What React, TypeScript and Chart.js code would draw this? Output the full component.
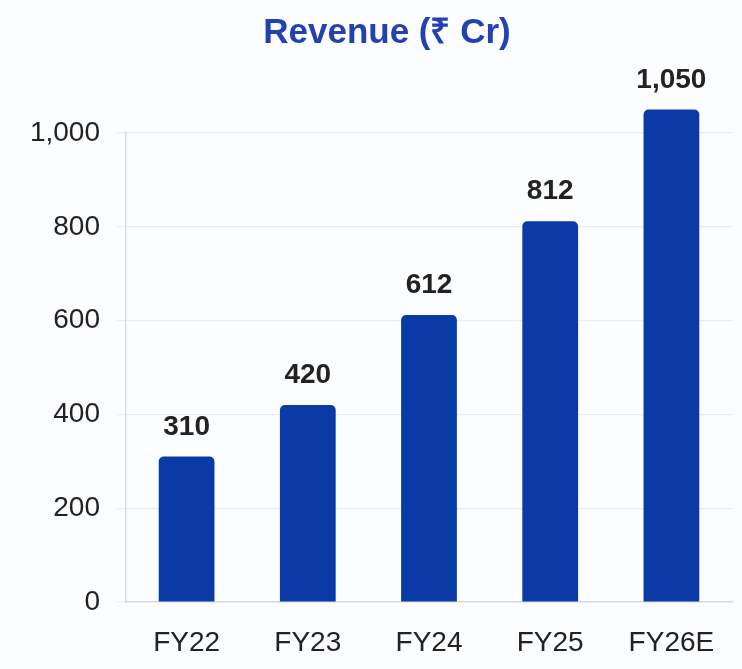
import React, { useEffect, useRef } from "react";
import { Chart, registerables } from "chart.js";

Chart.register(...registerables);

const categories = ["FY22", "FY23", "FY24", "FY25", "FY26E"];
const revenue = [310, 420, 612, 812, 1050];
const yTicks = [0, 200, 400, 600, 800, 1000];
const chartTitle = "Revenue (₹ Cr)";

const FONT = "'Liberation Sans', Arial, sans-serif";

const fmt = (v: number) => v.toLocaleString("en-US");

const valueLabels = {
  id: "valueLabels",
  afterDatasetsDraw(chart: any) {
    const ctx = chart.ctx;
    const meta = chart.getDatasetMeta(0);
    ctx.save();
    ctx.font = `bold 28px ${FONT}`;
    ctx.fillStyle = "#222222";
    ctx.textAlign = "center";
    ctx.textBaseline = "alphabetic";
    meta.data.forEach((bar: any, i: number) => {
      ctx.fillText(fmt(revenue[i]), bar.x, bar.y - 22);
    });
    ctx.restore();
  },
};

const titlePlugin = {
  id: "offsetTitle",
  afterDraw(chart: any) {
    const ctx = chart.ctx;
    ctx.save();
    ctx.font = `bold 35px ${FONT}`;
    ctx.fillStyle = "#2341b0";
    ctx.textAlign = "center";
    ctx.textBaseline = "middle";
    ctx.fillText(chartTitle, 387, 33);
    ctx.restore();
  },
};

export default function App() {
  const canvasRef = useRef<HTMLCanvasElement | null>(null);

  useEffect(() => {
    if (!canvasRef.current) return;
    const chart = new Chart(canvasRef.current, {
      type: "bar",
      data: {
        labels: categories,
        datasets: [
          {
            label: "Revenue",
            data: revenue,
            backgroundColor: "#0a3aa6",
            borderRadius: { topLeft: 5, topRight: 5, bottomLeft: 0, bottomRight: 0 },
            borderSkipped: "bottom",
            categoryPercentage: 1,
            barPercentage: 0.46,
            clip: false as any,
          },
        ],
      },
      options: {
        animation: false,
        responsive: true,
        maintainAspectRatio: false,
        layout: { padding: { top: 133, left: 0, right: 10, bottom: 0 } },
        plugins: {
          legend: { display: false },
          tooltip: { enabled: false },
          title: { display: false },
        },
        scales: {
          x: {
            afterFit: (scale: any) => {
              scale.height = 67;
            },
            grid: { display: false, drawTicks: false },
            border: { display: true, color: "#d3dbe8", width: 1.5 },
            ticks: {
              color: "#222222",
              padding: 24,
              font: { family: FONT, size: 28 },
            },
          },
          y: {
            min: 0,
            max: 1000,
            afterBuildTicks: (scale: any) => {
              scale.ticks = yTicks.map((v) => ({ value: v }));
            },
            afterFit: (scale: any) => {
              scale.width = 126;
            },
            grid: { color: "#e8edf5", lineWidth: 1.2, drawTicks: true, tickLength: 9 },
            border: { display: true, color: "#d3dbe8", width: 1.5 },
            ticks: {
              color: "#222222",
              padding: 17,
              font: { family: FONT, size: 28 },
              callback: (v: any) => fmt(Number(v)),
            },
          },
        },
      },
      plugins: [valueLabels, titlePlugin],
    });
    return () => chart.destroy();
  }, []);

  return (
    <div
      style={{
        position: "absolute",
        left: 0,
        top: 0,
        width: 742,
        height: 669,
        background: "#fcfdff",
      }}
    >
      <canvas ref={canvasRef} />
    </div>
  );
}
